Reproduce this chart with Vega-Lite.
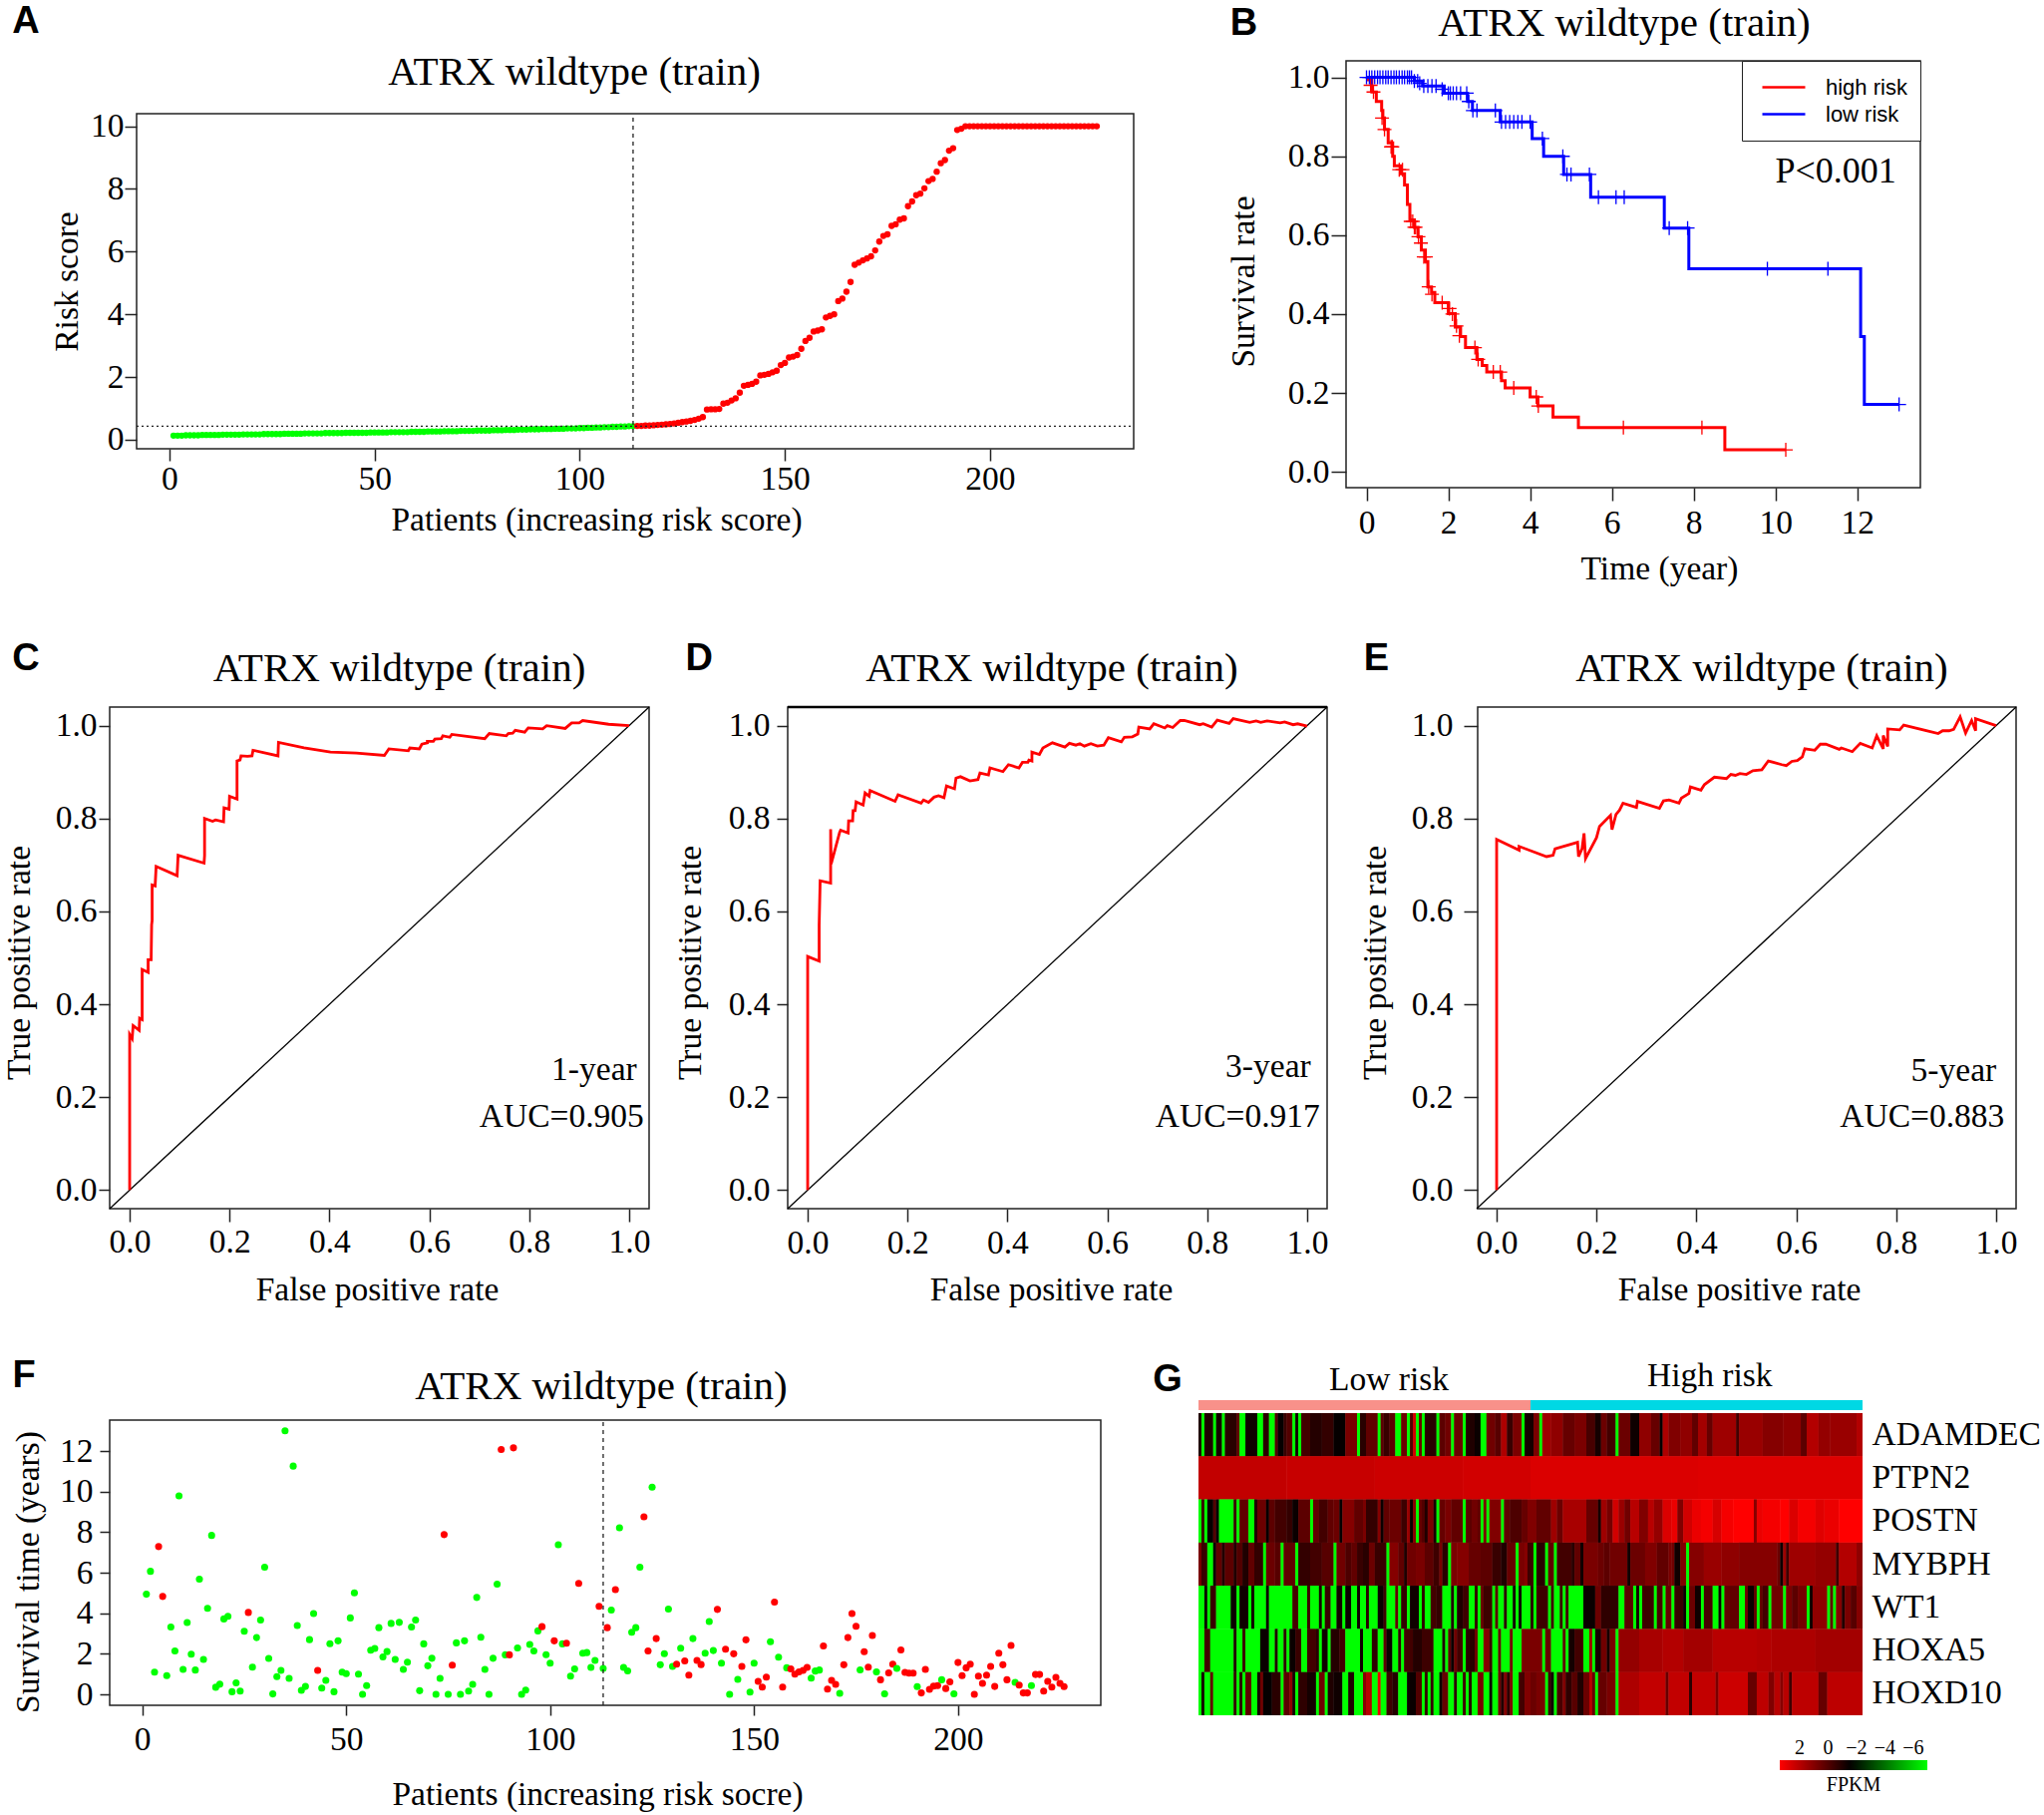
{
"$schema":"https://vega.github.io/schema/vega-lite/v6.json",
"background":"white",
"padding":{"left":1,"top":2,"right":0,"bottom":0},
"config":{"view":{"stroke":null},
"axis":{"grid":false,"domain":false,"labelFont":"Liberation Serif","labelFontSize":33.5,"titleFont":"Liberation Serif","titleFontSize":33.5,"titleFontWeight":"normal","labelColor":"#000","titleColor":"#000","tickColor":"#222","tickWidth":1.5,"labelOverlap":false,"labelFlush":false},
"text":{"font":"Liberation Serif","fontSize":33.5,"color":"#000"}},
"datasets":{
"riskScore":[
{"x":1,"y":0.13,"g":"low"},{"x":2,"y":0.13,"g":"low"},{"x":3,"y":0.13,"g":"low"},{"x":4,"y":0.14,"g":"low"},{"x":5,"y":0.14,"g":"low"},{"x":6,"y":0.14,"g":"low"},{"x":7,"y":0.14,"g":"low"},{"x":8,"y":0.15,"g":"low"},{"x":9,"y":0.15,"g":"low"},{"x":10,"y":0.15,"g":"low"},
{"x":11,"y":0.15,"g":"low"},{"x":12,"y":0.15,"g":"low"},{"x":13,"y":0.16,"g":"low"},{"x":14,"y":0.16,"g":"low"},{"x":15,"y":0.16,"g":"low"},{"x":16,"y":0.16,"g":"low"},{"x":17,"y":0.16,"g":"low"},{"x":18,"y":0.17,"g":"low"},{"x":19,"y":0.17,"g":"low"},{"x":20,"y":0.17,"g":"low"},
{"x":21,"y":0.17,"g":"low"},{"x":22,"y":0.17,"g":"low"},{"x":23,"y":0.18,"g":"low"},{"x":24,"y":0.18,"g":"low"},{"x":25,"y":0.18,"g":"low"},{"x":26,"y":0.18,"g":"low"},{"x":27,"y":0.18,"g":"low"},{"x":28,"y":0.19,"g":"low"},{"x":29,"y":0.19,"g":"low"},{"x":30,"y":0.19,"g":"low"},
{"x":31,"y":0.19,"g":"low"},{"x":32,"y":0.19,"g":"low"},{"x":33,"y":0.2,"g":"low"},{"x":34,"y":0.2,"g":"low"},{"x":35,"y":0.2,"g":"low"},{"x":36,"y":0.2,"g":"low"},{"x":37,"y":0.2,"g":"low"},{"x":38,"y":0.21,"g":"low"},{"x":39,"y":0.21,"g":"low"},{"x":40,"y":0.21,"g":"low"},
{"x":41,"y":0.21,"g":"low"},{"x":42,"y":0.21,"g":"low"},{"x":43,"y":0.22,"g":"low"},{"x":44,"y":0.22,"g":"low"},{"x":45,"y":0.22,"g":"low"},{"x":46,"y":0.22,"g":"low"},{"x":47,"y":0.22,"g":"low"},{"x":48,"y":0.22,"g":"low"},{"x":49,"y":0.23,"g":"low"},{"x":50,"y":0.23,"g":"low"},
{"x":51,"y":0.23,"g":"low"},{"x":52,"y":0.23,"g":"low"},{"x":53,"y":0.23,"g":"low"},{"x":54,"y":0.24,"g":"low"},{"x":55,"y":0.24,"g":"low"},{"x":56,"y":0.24,"g":"low"},{"x":57,"y":0.24,"g":"low"},{"x":58,"y":0.24,"g":"low"},{"x":59,"y":0.25,"g":"low"},{"x":60,"y":0.25,"g":"low"},
{"x":61,"y":0.25,"g":"low"},{"x":62,"y":0.25,"g":"low"},{"x":63,"y":0.26,"g":"low"},{"x":64,"y":0.26,"g":"low"},{"x":65,"y":0.26,"g":"low"},{"x":66,"y":0.26,"g":"low"},{"x":67,"y":0.27,"g":"low"},{"x":68,"y":0.27,"g":"low"},{"x":69,"y":0.27,"g":"low"},{"x":70,"y":0.27,"g":"low"},
{"x":71,"y":0.28,"g":"low"},{"x":72,"y":0.28,"g":"low"},{"x":73,"y":0.28,"g":"low"},{"x":74,"y":0.28,"g":"low"},{"x":75,"y":0.29,"g":"low"},{"x":76,"y":0.29,"g":"low"},{"x":77,"y":0.29,"g":"low"},{"x":78,"y":0.29,"g":"low"},{"x":79,"y":0.3,"g":"low"},{"x":80,"y":0.3,"g":"low"},
{"x":81,"y":0.3,"g":"low"},{"x":82,"y":0.31,"g":"low"},{"x":83,"y":0.31,"g":"low"},{"x":84,"y":0.31,"g":"low"},{"x":85,"y":0.32,"g":"low"},{"x":86,"y":0.32,"g":"low"},{"x":87,"y":0.32,"g":"low"},{"x":88,"y":0.33,"g":"low"},{"x":89,"y":0.33,"g":"low"},{"x":90,"y":0.33,"g":"low"},
{"x":91,"y":0.34,"g":"low"},{"x":92,"y":0.34,"g":"low"},{"x":93,"y":0.34,"g":"low"},{"x":94,"y":0.35,"g":"low"},{"x":95,"y":0.35,"g":"low"},{"x":96,"y":0.35,"g":"low"},{"x":97,"y":0.36,"g":"low"},{"x":98,"y":0.36,"g":"low"},{"x":99,"y":0.36,"g":"low"},{"x":100,"y":0.37,"g":"low"},
{"x":101,"y":0.37,"g":"low"},{"x":102,"y":0.38,"g":"low"},{"x":103,"y":0.38,"g":"low"},{"x":104,"y":0.39,"g":"low"},{"x":105,"y":0.39,"g":"low"},{"x":106,"y":0.4,"g":"low"},{"x":107,"y":0.4,"g":"low"},{"x":108,"y":0.41,"g":"low"},{"x":109,"y":0.41,"g":"low"},{"x":110,"y":0.42,"g":"low"},{"x":111,"y":0.42,"g":"low"},{"x":112,"y":0.43,"g":"low"},{"x":113,"y":0.43,"g":"low"},
{"x":114,"y":0.44,"g":"high"},{"x":115,"y":0.44,"g":"high"},{"x":116,"y":0.45,"g":"high"},{"x":117,"y":0.45,"g":"high"},{"x":118,"y":0.46,"g":"high"},{"x":119,"y":0.47,"g":"high"},{"x":120,"y":0.48,"g":"high"},{"x":121,"y":0.49,"g":"high"},{"x":122,"y":0.5,"g":"high"},{"x":123,"y":0.52,"g":"high"},{"x":124,"y":0.54,"g":"high"},{"x":125,"y":0.56,"g":"high"},{"x":126,"y":0.58,"g":"high"},{"x":127,"y":0.6,"g":"high"},{"x":128,"y":0.63,"g":"high"},{"x":129,"y":0.67,"g":"high"},{"x":130,"y":0.72,"g":"high"},
{"x":131,"y":0.96,"g":"high"},{"x":132,"y":0.97,"g":"high"},{"x":133,"y":0.97,"g":"high"},{"x":134,"y":0.98,"g":"high"},{"x":135,"y":1.15,"g":"high"},{"x":136,"y":1.18,"g":"high"},{"x":137,"y":1.25,"g":"high"},{"x":138,"y":1.32,"g":"high"},{"x":139,"y":1.5,"g":"high"},{"x":140,"y":1.72,"g":"high"},
{"x":141,"y":1.75,"g":"high"},{"x":142,"y":1.78,"g":"high"},{"x":143,"y":1.85,"g":"high"},{"x":144,"y":2.05,"g":"high"},{"x":145,"y":2.07,"g":"high"},{"x":146,"y":2.1,"g":"high"},{"x":147,"y":2.15,"g":"high"},{"x":148,"y":2.2,"g":"high"},{"x":149,"y":2.38,"g":"high"},{"x":150,"y":2.45,"g":"high"},
{"x":151,"y":2.62,"g":"high"},{"x":152,"y":2.65,"g":"high"},{"x":153,"y":2.7,"g":"high"},{"x":154,"y":2.9,"g":"high"},{"x":155,"y":3.15,"g":"high"},{"x":156,"y":3.25,"g":"high"},{"x":157,"y":3.45,"g":"high"},{"x":158,"y":3.48,"g":"high"},{"x":159,"y":3.52,"g":"high"},{"x":160,"y":3.9,"g":"high"},
{"x":161,"y":3.95,"g":"high"},{"x":162,"y":4.0,"g":"high"},{"x":163,"y":4.42,"g":"high"},{"x":164,"y":4.5,"g":"high"},{"x":165,"y":4.72,"g":"high"},{"x":166,"y":5.03,"g":"high"},{"x":167,"y":5.58,"g":"high"},{"x":168,"y":5.65,"g":"high"},{"x":169,"y":5.72,"g":"high"},{"x":170,"y":5.78,"g":"high"},
{"x":171,"y":5.85,"g":"high"},{"x":172,"y":6.04,"g":"high"},{"x":173,"y":6.32,"g":"high"},{"x":174,"y":6.5,"g":"high"},{"x":175,"y":6.55,"g":"high"},{"x":176,"y":6.82,"g":"high"},{"x":177,"y":6.87,"g":"high"},{"x":178,"y":7.02,"g":"high"},{"x":179,"y":7.06,"g":"high"},{"x":180,"y":7.45,"g":"high"},
{"x":181,"y":7.6,"g":"high"},{"x":182,"y":7.8,"g":"high"},{"x":183,"y":7.85,"g":"high"},{"x":184,"y":8.02,"g":"high"},{"x":185,"y":8.25,"g":"high"},{"x":186,"y":8.32,"g":"high"},{"x":187,"y":8.55,"g":"high"},{"x":188,"y":8.82,"g":"high"},{"x":189,"y":8.92,"g":"high"},{"x":190,"y":9.22,"g":"high"},
{"x":191,"y":9.3,"g":"high"},{"x":192,"y":9.88,"g":"high"},{"x":193,"y":9.92,"g":"high"},{"x":194,"y":10,"g":"high"},{"x":195,"y":10,"g":"high"},{"x":196,"y":10,"g":"high"},{"x":197,"y":10,"g":"high"},{"x":198,"y":10,"g":"high"},{"x":199,"y":10,"g":"high"},{"x":200,"y":10,"g":"high"},
{"x":201,"y":10,"g":"high"},{"x":202,"y":10,"g":"high"},{"x":203,"y":10,"g":"high"},{"x":204,"y":10,"g":"high"},{"x":205,"y":10,"g":"high"},{"x":206,"y":10,"g":"high"},{"x":207,"y":10,"g":"high"},{"x":208,"y":10,"g":"high"},{"x":209,"y":10,"g":"high"},{"x":210,"y":10,"g":"high"},
{"x":211,"y":10,"g":"high"},{"x":212,"y":10,"g":"high"},{"x":213,"y":10,"g":"high"},{"x":214,"y":10,"g":"high"},{"x":215,"y":10,"g":"high"},{"x":216,"y":10,"g":"high"},{"x":217,"y":10,"g":"high"},{"x":218,"y":10,"g":"high"},{"x":219,"y":10,"g":"high"},{"x":220,"y":10,"g":"high"},
{"x":221,"y":10,"g":"high"},{"x":222,"y":10,"g":"high"},{"x":223,"y":10,"g":"high"},{"x":224,"y":10,"g":"high"},{"x":225,"y":10,"g":"high"},{"x":226,"y":10,"g":"high"}],
"survivalTime":[
{"x":1,"y":4.94,"g":"a"},{"x":2,"y":6.07,"g":"a"},{"x":3,"y":1.1,"g":"a"},{"x":4,"y":7.29,"g":"d"},{"x":5,"y":4.83,"g":"d"},{"x":6,"y":0.92,"g":"a"},{"x":7,"y":3.32,"g":"a"},{"x":8,"y":2.14,"g":"a"},{"x":9,"y":9.79,"g":"a"},{"x":10,"y":1.23,"g":"a"},
{"x":11,"y":3.54,"g":"a"},{"x":12,"y":1.98,"g":"a"},{"x":13,"y":1.2,"g":"a"},{"x":14,"y":5.68,"g":"a"},{"x":15,"y":1.72,"g":"a"},{"x":16,"y":4.24,"g":"a"},{"x":17,"y":7.84,"g":"a"},{"x":18,"y":0.35,"g":"a"},{"x":19,"y":0.5,"g":"a"},{"x":20,"y":3.72,"g":"a"},
{"x":21,"y":3.85,"g":"a"},{"x":22,"y":0.13,"g":"a"},{"x":23,"y":0.57,"g":"a"},{"x":24,"y":0.16,"g":"a"},{"x":25,"y":3.11,"g":"a"},{"x":26,"y":4.04,"g":"d"},{"x":27,"y":1.34,"g":"a"},{"x":28,"y":2.8,"g":"a"},{"x":29,"y":3.67,"g":"a"},{"x":30,"y":6.27,"g":"a"},
{"x":31,"y":1.77,"g":"a"},{"x":32,"y":0.02,"g":"a"},{"x":33,"y":0.87,"g":"a"},{"x":34,"y":1.18,"g":"a"},{"x":35,"y":13.0,"g":"a"},{"x":36,"y":0.79,"g":"a"},{"x":37,"y":11.26,"g":"a"},{"x":38,"y":3.4,"g":"a"},{"x":39,"y":0.2,"g":"a"},{"x":40,"y":0.39,"g":"a"},
{"x":41,"y":2.7,"g":"a"},{"x":42,"y":3.99,"g":"a"},{"x":43,"y":1.18,"g":"d"},{"x":44,"y":0.31,"g":"a"},{"x":45,"y":0.69,"g":"a"},{"x":46,"y":2.5,"g":"a"},{"x":47,"y":0.13,"g":"a"},{"x":48,"y":2.64,"g":"a"},{"x":49,"y":1.1,"g":"a"},{"x":50,"y":1.02,"g":"a"},
{"x":51,"y":3.77,"g":"a"},{"x":52,"y":5.01,"g":"a"},{"x":53,"y":1.0,"g":"a"},{"x":54,"y":0.0,"g":"a"},{"x":55,"y":0.43,"g":"a"},{"x":56,"y":2.18,"g":"a"},{"x":57,"y":2.26,"g":"a"},{"x":58,"y":3.29,"g":"a"},{"x":59,"y":1.85,"g":"a"},{"x":60,"y":2.11,"g":"a"},
{"x":61,"y":3.5,"g":"a"},{"x":62,"y":1.72,"g":"a"},{"x":63,"y":3.55,"g":"a"},{"x":64,"y":1.23,"g":"a"},{"x":65,"y":1.59,"g":"a"},{"x":66,"y":3.32,"g":"a"},{"x":67,"y":3.67,"g":"a"},{"x":68,"y":0.18,"g":"a"},{"x":69,"y":2.49,"g":"a"},{"x":70,"y":1.41,"g":"a"},
{"x":71,"y":1.78,"g":"a"},{"x":72,"y":0.0,"g":"a"},{"x":73,"y":0.79,"g":"a"},{"x":74,"y":7.88,"g":"d"},{"x":75,"y":0.0,"g":"a"},{"x":76,"y":1.44,"g":"d"},{"x":77,"y":2.54,"g":"a"},{"x":78,"y":0.0,"g":"a"},{"x":79,"y":2.64,"g":"a"},{"x":80,"y":0.16,"g":"a"},
{"x":81,"y":0.49,"g":"a"},{"x":82,"y":4.78,"g":"a"},{"x":83,"y":2.82,"g":"a"},{"x":84,"y":1.23,"g":"a"},{"x":85,"y":0.0,"g":"a"},{"x":86,"y":1.78,"g":"a"},{"x":87,"y":5.44,"g":"a"},{"x":88,"y":12.08,"g":"d"},{"x":89,"y":1.95,"g":"a"},{"x":90,"y":1.95,"g":"d"},
{"x":91,"y":12.16,"g":"d"},{"x":92,"y":2.29,"g":"a"},{"x":93,"y":0.0,"g":"a"},{"x":94,"y":0.21,"g":"a"},{"x":95,"y":2.46,"g":"a"},{"x":96,"y":2.14,"g":"a"},{"x":97,"y":3.13,"g":"a"},{"x":98,"y":3.34,"g":"d"},{"x":99,"y":1.96,"g":"a"},{"x":100,"y":1.54,"g":"a"},
{"x":101,"y":2.64,"g":"d"},{"x":102,"y":7.38,"g":"a"},{"x":103,"y":2.49,"g":"a"},{"x":104,"y":2.52,"g":"d"},{"x":105,"y":0.9,"g":"a"},{"x":106,"y":1.26,"g":"a"},{"x":107,"y":5.47,"g":"d"},{"x":108,"y":2.03,"g":"a"},{"x":109,"y":2.06,"g":"a"},{"x":110,"y":1.33,"g":"a"},
{"x":111,"y":1.67,"g":"a"},{"x":112,"y":4.34,"g":"d"},{"x":113,"y":1.28,"g":"a"},{"x":114,"y":3.29,"g":"d"},{"x":115,"y":4.16,"g":"a"},{"x":116,"y":5.17,"g":"d"},{"x":117,"y":8.22,"g":"a"},{"x":118,"y":1.33,"g":"a"},{"x":119,"y":1.16,"g":"a"},{"x":120,"y":3.06,"g":"a"},
{"x":121,"y":3.29,"g":"a"},{"x":122,"y":6.27,"g":"a"},{"x":123,"y":8.76,"g":"d"},{"x":124,"y":2.14,"g":"d"},{"x":125,"y":10.22,"g":"a"},{"x":126,"y":2.75,"g":"d"},{"x":127,"y":1.46,"g":"a"},{"x":128,"y":2.01,"g":"a"},{"x":129,"y":4.21,"g":"a"},{"x":130,"y":1.38,"g":"a"},
{"x":131,"y":1.49,"g":"d"},{"x":132,"y":2.28,"g":"a"},{"x":133,"y":1.65,"g":"d"},{"x":134,"y":0.95,"g":"d"},{"x":135,"y":2.75,"g":"a"},{"x":136,"y":1.67,"g":"d"},{"x":137,"y":1.47,"g":"d"},{"x":138,"y":2.03,"g":"a"},{"x":139,"y":3.59,"g":"a"},{"x":140,"y":2.16,"g":"a"},
{"x":141,"y":4.19,"g":"d"},{"x":142,"y":1.54,"g":"a"},{"x":143,"y":2.23,"g":"d"},{"x":144,"y":0.0,"g":"a"},{"x":145,"y":2.0,"g":"d"},{"x":146,"y":0.74,"g":"a"},{"x":147,"y":1.38,"g":"d"},{"x":148,"y":2.69,"g":"d"},{"x":149,"y":0.11,"g":"a"},{"x":150,"y":1.54,"g":"a"},
{"x":151,"y":0.64,"g":"d"},{"x":152,"y":0.36,"g":"d"},{"x":153,"y":0.85,"g":"d"},{"x":154,"y":2.6,"g":"a"},{"x":155,"y":4.55,"g":"d"},{"x":156,"y":1.83,"g":"a"},{"x":157,"y":0.36,"g":"d"},{"x":158,"y":1.31,"g":"a"},{"x":159,"y":1.26,"g":"d"},{"x":160,"y":1.0,"g":"d"},
{"x":161,"y":1.11,"g":"d"},{"x":162,"y":1.18,"g":"d"},{"x":163,"y":1.33,"g":"d"},{"x":164,"y":0.8,"g":"a"},{"x":165,"y":1.15,"g":"a"},{"x":166,"y":1.2,"g":"a"},{"x":167,"y":2.39,"g":"d"},{"x":168,"y":0.26,"g":"d"},{"x":169,"y":0.69,"g":"d"},{"x":170,"y":0.49,"g":"d"},
{"x":171,"y":0.05,"g":"a"},{"x":172,"y":1.46,"g":"d"},{"x":173,"y":2.8,"g":"d"},{"x":174,"y":3.99,"g":"d"},{"x":175,"y":3.36,"g":"d"},{"x":176,"y":1.21,"g":"a"},{"x":177,"y":2.1,"g":"d"},{"x":178,"y":1.34,"g":"d"},{"x":179,"y":2.9,"g":"d"},{"x":180,"y":1.11,"g":"a"},
{"x":181,"y":0.72,"g":"d"},{"x":182,"y":0.03,"g":"a"},{"x":183,"y":1.06,"g":"d"},{"x":184,"y":1.49,"g":"d"},{"x":185,"y":1.28,"g":"a"},{"x":186,"y":2.19,"g":"d"},{"x":187,"y":1.08,"g":"d"},{"x":188,"y":1.05,"g":"d"},{"x":189,"y":1.05,"g":"d"},{"x":190,"y":0.38,"g":"a"},
{"x":191,"y":0.07,"g":"d"},{"x":192,"y":1.23,"g":"d"},{"x":193,"y":0.25,"g":"d"},{"x":194,"y":0.41,"g":"d"},{"x":195,"y":0.43,"g":"d"},{"x":196,"y":0.72,"g":"a"},{"x":197,"y":0.29,"g":"d"},{"x":198,"y":0.62,"g":"d"},{"x":199,"y":0.03,"g":"a"},{"x":200,"y":1.57,"g":"d"},
{"x":201,"y":0.92,"g":"d"},{"x":202,"y":1.31,"g":"d"},{"x":203,"y":1.49,"g":"d"},{"x":204,"y":0.0,"g":"d"},{"x":205,"y":0.9,"g":"d"},{"x":206,"y":0.54,"g":"d"},{"x":207,"y":0.95,"g":"d"},{"x":208,"y":1.38,"g":"d"},{"x":209,"y":0.39,"g":"d"},{"x":210,"y":2.03,"g":"d"},
{"x":211,"y":1.46,"g":"d"},{"x":212,"y":0.72,"g":"d"},{"x":213,"y":2.41,"g":"d"},{"x":214,"y":0.59,"g":"a"},{"x":215,"y":0.46,"g":"d"},{"x":216,"y":0.07,"g":"d"},{"x":217,"y":0.07,"g":"d"},{"x":218,"y":0.43,"g":"a"},{"x":219,"y":0.98,"g":"d"},{"x":220,"y":0.98,"g":"d"},
{"x":221,"y":0.16,"g":"d"},{"x":222,"y":0.64,"g":"d"},{"x":223,"y":0.36,"g":"d"},{"x":224,"y":0.84,"g":"d"},{"x":225,"y":0.54,"g":"d"},{"x":226,"y":0.38,"g":"d"}],
"km":[
{"x":0,"y":1.0,"g":"high risk"},{"x":0.04,"y":0.994,"g":"high risk"},{"x":0.13,"y":0.963,"g":"high risk"},{"x":0.24,"y":0.939,"g":"high risk"},{"x":0.37,"y":0.916,"g":"high risk"},{"x":0.4,"y":0.897,"g":"high risk"},{"x":0.44,"y":0.868,"g":"high risk"},{"x":0.53,"y":0.834,"g":"high risk"},{"x":0.64,"y":0.8,"g":"high risk"},{"x":0.68,"y":0.776,"g":"high risk"},{"x":0.84,"y":0.756,"g":"high risk"},{"x":0.93,"y":0.727,"g":"high risk"},{"x":1.0,"y":0.678,"g":"high risk"},{"x":1.06,"y":0.639,"g":"high risk"},{"x":1.17,"y":0.62,"g":"high risk"},{"x":1.26,"y":0.596,"g":"high risk"},{"x":1.34,"y":0.562,"g":"high risk"},{"x":1.44,"y":0.533,"g":"high risk"},{"x":1.5,"y":0.469,"g":"high risk"},{"x":1.59,"y":0.455,"g":"high risk"},{"x":1.67,"y":0.429,"g":"high risk"},{"x":2.0,"y":0.401,"g":"high risk"},{"x":2.17,"y":0.367,"g":"high risk"},{"x":2.3,"y":0.343,"g":"high risk"},{"x":2.42,"y":0.315,"g":"high risk"},{"x":2.7,"y":0.285,"g":"high risk"},{"x":2.83,"y":0.27,"g":"high risk"},{"x":2.94,"y":0.253,"g":"high risk"},{"x":3.3,"y":0.231,"g":"high risk"},{"x":3.39,"y":0.213,"g":"high risk"},{"x":4.0,"y":0.19,"g":"high risk"},{"x":4.19,"y":0.167,"g":"high risk"},{"x":4.56,"y":0.139,"g":"high risk"},{"x":5.18,"y":0.112,"g":"high risk"},{"x":8.76,"y":0.056,"g":"high risk"},{"x":10.25,"y":0.056,"g":"high risk"},
{"x":0,"y":1.0,"g":"low risk"},{"x":1.17,"y":0.991,"g":"low risk"},{"x":1.37,"y":0.978,"g":"low risk"},{"x":1.9,"y":0.96,"g":"low risk"},{"x":2.47,"y":0.939,"g":"low risk"},{"x":2.59,"y":0.916,"g":"low risk"},{"x":3.27,"y":0.887,"g":"low risk"},{"x":4.05,"y":0.845,"g":"low risk"},{"x":4.33,"y":0.8,"g":"low risk"},{"x":4.82,"y":0.754,"g":"low risk"},{"x":5.48,"y":0.696,"g":"low risk"},{"x":7.28,"y":0.618,"g":"low risk"},{"x":7.88,"y":0.515,"g":"low risk"},{"x":12.08,"y":0.343,"g":"low risk"},{"x":12.17,"y":0.171,"g":"low risk"},{"x":13.02,"y":0.171,"g":"low risk"}],
"censored":[
{"x":0.1,"y":0.98,"g":"high risk"},{"x":0.17,"y":0.963,"g":"high risk"},{"x":0.38,"y":0.897,"g":"high risk"},{"x":0.44,"y":0.868,"g":"high risk"},{"x":0.6,"y":0.824,"g":"high risk"},{"x":0.63,"y":0.824,"g":"high risk"},{"x":0.8,"y":0.766,"g":"high risk"},{"x":0.88,"y":0.766,"g":"high risk"},{"x":1.08,"y":0.635,"g":"high risk"},{"x":1.13,"y":0.635,"g":"high risk"},{"x":1.17,"y":0.62,"g":"high risk"},{"x":1.2,"y":0.62,"g":"high risk"},{"x":1.27,"y":0.596,"g":"high risk"},{"x":1.33,"y":0.58,"g":"high risk"},{"x":1.4,"y":0.545,"g":"high risk"},{"x":1.45,"y":0.545,"g":"high risk"},{"x":1.52,"y":0.469,"g":"high risk"},{"x":1.6,"y":0.45,"g":"high risk"},{"x":1.85,"y":0.429,"g":"high risk"},{"x":2.03,"y":0.414,"g":"high risk"},{"x":2.1,"y":0.4,"g":"high risk"},{"x":2.2,"y":0.37,"g":"high risk"},{"x":2.27,"y":0.345,"g":"high risk"},{"x":2.65,"y":0.315,"g":"high risk"},{"x":2.73,"y":0.285,"g":"high risk"},{"x":3.1,"y":0.253,"g":"high risk"},{"x":3.27,"y":0.253,"g":"high risk"},{"x":3.6,"y":0.213,"g":"high risk"},{"x":4.15,"y":0.19,"g":"high risk"},{"x":4.2,"y":0.167,"g":"high risk"},{"x":6.28,"y":0.112,"g":"high risk"},{"x":8.2,"y":0.112,"g":"high risk"},{"x":10.25,"y":0.056,"g":"high risk"},
{"x":0.0,"y":1.0,"g":"low risk"},{"x":0.07,"y":1.0,"g":"low risk"},{"x":0.13,"y":1.0,"g":"low risk"},{"x":0.2,"y":1.0,"g":"low risk"},{"x":0.27,"y":1.0,"g":"low risk"},{"x":0.33,"y":1.0,"g":"low risk"},{"x":0.4,"y":1.0,"g":"low risk"},{"x":0.47,"y":1.0,"g":"low risk"},{"x":0.53,"y":1.0,"g":"low risk"},{"x":0.6,"y":1.0,"g":"low risk"},{"x":0.67,"y":1.0,"g":"low risk"},{"x":0.73,"y":1.0,"g":"low risk"},{"x":0.8,"y":1.0,"g":"low risk"},{"x":0.87,"y":1.0,"g":"low risk"},{"x":0.93,"y":1.0,"g":"low risk"},{"x":1.0,"y":1.0,"g":"low risk"},{"x":1.05,"y":1.0,"g":"low risk"},{"x":1.1,"y":1.0,"g":"low risk"},{"x":1.17,"y":0.991,"g":"low risk"},{"x":1.25,"y":0.991,"g":"low risk"},{"x":1.3,"y":0.985,"g":"low risk"},{"x":1.4,"y":0.978,"g":"low risk"},{"x":1.5,"y":0.978,"g":"low risk"},{"x":1.6,"y":0.978,"g":"low risk"},{"x":1.7,"y":0.978,"g":"low risk"},{"x":1.85,"y":0.97,"g":"low risk"},{"x":2.0,"y":0.96,"g":"low risk"},{"x":2.05,"y":0.96,"g":"low risk"},{"x":2.12,"y":0.96,"g":"low risk"},{"x":2.2,"y":0.96,"g":"low risk"},{"x":2.3,"y":0.96,"g":"low risk"},{"x":2.45,"y":0.96,"g":"low risk"},{"x":2.5,"y":0.939,"g":"low risk"},{"x":2.6,"y":0.916,"g":"low risk"},{"x":2.7,"y":0.916,"g":"low risk"},{"x":3.15,"y":0.916,"g":"low risk"},{"x":3.3,"y":0.887,"g":"low risk"},{"x":3.4,"y":0.887,"g":"low risk"},{"x":3.5,"y":0.887,"g":"low risk"},{"x":3.6,"y":0.887,"g":"low risk"},{"x":3.7,"y":0.887,"g":"low risk"},{"x":3.8,"y":0.887,"g":"low risk"},{"x":4.0,"y":0.887,"g":"low risk"},{"x":4.3,"y":0.845,"g":"low risk"},{"x":4.8,"y":0.8,"g":"low risk"},{"x":4.9,"y":0.754,"g":"low risk"},{"x":5.0,"y":0.754,"g":"low risk"},{"x":5.45,"y":0.754,"g":"low risk"},{"x":5.67,"y":0.696,"g":"low risk"},{"x":6.1,"y":0.696,"g":"low risk"},{"x":6.3,"y":0.696,"g":"low risk"},{"x":7.4,"y":0.618,"g":"low risk"},{"x":7.85,"y":0.618,"g":"low risk"},{"x":9.8,"y":0.515,"g":"low risk"},{"x":11.28,"y":0.515,"g":"low risk"},{"x":13.02,"y":0.171,"g":"low risk"}],
"roc1":[{"x":0,"y":0},{"x":0,"y":0.335},{"x":0.005,"y":0.326},{"x":0.007,"y":0.354},{"x":0.019,"y":0.344},{"x":0.02,"y":0.37},{"x":0.025,"y":0.367},{"x":0.025,"y":0.475},{"x":0.037,"y":0.469},{"x":0.037,"y":0.496},{"x":0.043,"y":0.496},{"x":0.044,"y":0.571},{"x":0.045,"y":0.58},{"x":0.045,"y":0.657},{"x":0.051,"y":0.655},{"x":0.053,"y":0.697},{"x":0.095,"y":0.677},{"x":0.097,"y":0.721},{"x":0.149,"y":0.704},{"x":0.15,"y":0.72},{"x":0.15,"y":0.8},{"x":0.166,"y":0.794},{"x":0.172,"y":0.797},{"x":0.188,"y":0.793},{"x":0.189,"y":0.823},{"x":0.199,"y":0.82},{"x":0.2,"y":0.848},{"x":0.215,"y":0.842},{"x":0.215,"y":0.924},{"x":0.221,"y":0.926},{"x":0.223,"y":0.935},{"x":0.236,"y":0.934},{"x":0.245,"y":0.935},{"x":0.247,"y":0.947},{"x":0.297,"y":0.935},{"x":0.298,"y":0.964},{"x":0.349,"y":0.952},{"x":0.402,"y":0.943},{"x":0.454,"y":0.941},{"x":0.51,"y":0.936},{"x":0.519,"y":0.95},{"x":0.558,"y":0.946},{"x":0.561,"y":0.952},{"x":0.58,"y":0.95},{"x":0.585,"y":0.96},{"x":0.596,"y":0.963},{"x":0.596,"y":0.966},{"x":0.608,"y":0.966},{"x":0.611,"y":0.971},{"x":0.624,"y":0.972},{"x":0.627,"y":0.978},{"x":0.641,"y":0.975},{"x":0.645,"y":0.981},{"x":0.711,"y":0.972},{"x":0.72,"y":0.983},{"x":0.754,"y":0.978},{"x":0.758,"y":0.983},{"x":0.767,"y":0.984},{"x":0.772,"y":0.99},{"x":0.791,"y":0.986},{"x":0.798,"y":0.995},{"x":0.827,"y":0.993},{"x":0.835,"y":1.0},{"x":0.872,"y":0.994},{"x":0.885,"y":1.006},{"x":0.9,"y":1.006},{"x":0.907,"y":1.011},{"x":0.959,"y":1.003},{"x":1,"y":1}],
"roc3":[{"x":0,"y":0},{"x":0,"y":0.503},{"x":0.023,"y":0.493},{"x":0.023,"y":0.571},{"x":0.025,"y":0.666},{"x":0.046,"y":0.661},{"x":0.047,"y":0.702},{"x":0.046,"y":0.777},{"x":0.064,"y":0.77},{"x":0.066,"y":0.775},{"x":0.081,"y":0.769},{"x":0.082,"y":0.795},{"x":0.09,"y":0.795},{"x":0.091,"y":0.817},{"x":0.095,"y":0.817},{"x":0.097,"y":0.836},{"x":0.111,"y":0.829},{"x":0.115,"y":0.855},{"x":0.123,"y":0.848},{"x":0.125,"y":0.86},{"x":0.175,"y":0.837},{"x":0.181,"y":0.851},{"x":0.227,"y":0.833},{"x":0.232,"y":0.84},{"x":0.242,"y":0.835},{"x":0.253,"y":0.846},{"x":0.262,"y":0.849},{"x":0.273,"y":0.845},{"x":0.278,"y":0.87},{"x":0.294,"y":0.864},{"x":0.297,"y":0.887},{"x":0.306,"y":0.89},{"x":0.325,"y":0.881},{"x":0.341,"y":0.884},{"x":0.345,"y":0.898},{"x":0.362,"y":0.894},{"x":0.365,"y":0.909},{"x":0.391,"y":0.901},{"x":0.402,"y":0.916},{"x":0.423,"y":0.909},{"x":0.43,"y":0.921},{"x":0.441,"y":0.921},{"x":0.443,"y":0.926},{"x":0.449,"y":0.924},{"x":0.449,"y":0.943},{"x":0.464,"y":0.938},{"x":0.471,"y":0.952},{"x":0.49,"y":0.963},{"x":0.515,"y":0.954},{"x":0.524,"y":0.962},{"x":0.537,"y":0.958},{"x":0.545,"y":0.961},{"x":0.554,"y":0.956},{"x":0.567,"y":0.961},{"x":0.58,"y":0.956},{"x":0.593,"y":0.958},{"x":0.602,"y":0.974},{"x":0.628,"y":0.965},{"x":0.634,"y":0.975},{"x":0.65,"y":0.976},{"x":0.661,"y":0.982},{"x":0.663,"y":0.997},{"x":0.685,"y":0.993},{"x":0.693,"y":1.004},{"x":0.715,"y":0.995},{"x":0.72,"y":1.0},{"x":0.731,"y":0.996},{"x":0.746,"y":1.011},{"x":0.754,"y":1.011},{"x":0.785,"y":1.002},{"x":0.792,"y":1.004},{"x":0.809,"y":0.997},{"x":0.82,"y":1.012},{"x":0.844,"y":1.005},{"x":0.852,"y":1.015},{"x":0.885,"y":1.007},{"x":0.898,"y":1.01},{"x":0.907,"y":1.007},{"x":0.92,"y":1.01},{"x":0.946,"y":1.006},{"x":0.955,"y":1.008},{"x":0.972,"y":1.002},{"x":0.981,"y":1.004},{"x":1,"y":0.999}],
"roc5":[{"x":0,"y":0},{"x":0,"y":0.755},{"x":0.045,"y":0.732},{"x":0.045,"y":0.74},{"x":0.1,"y":0.718},{"x":0.113,"y":0.721},{"x":0.117,"y":0.735},{"x":0.164,"y":0.718},{"x":0.178,"y":0.714},{"x":0.171,"y":0.735},{"x":0.162,"y":0.749},{"x":0.175,"y":0.768},{"x":0.2,"y":0.759},{"x":0.206,"y":0.783},{"x":0.231,"y":0.776},{"x":0.228,"y":0.807},{"x":0.239,"y":0.809},{"x":0.246,"y":0.818},{"x":0.253,"y":0.833},{"x":0.28,"y":0.824},{"x":0.282,"y":0.837},{"x":0.326,"y":0.822},{"x":0.334,"y":0.838},{"x":0.345,"y":0.84},{"x":0.365,"y":0.833},{"x":0.37,"y":0.844},{"x":0.385,"y":0.854},{"x":0.388,"y":0.868},{"x":0.409,"y":0.861},{"x":0.416,"y":0.873},{"x":0.436,"y":0.889},{"x":0.46,"y":0.886},{"x":0.469,"y":0.895},{"x":0.478,"y":0.893},{"x":0.487,"y":0.897},{"x":0.5,"y":0.895},{"x":0.513,"y":0.903},{"x":0.531,"y":0.905},{"x":0.544,"y":0.924},{"x":0.571,"y":0.916},{"x":0.58,"y":0.914},{"x":0.591,"y":0.923},{"x":0.602,"y":0.925},{"x":0.612,"y":0.933},{"x":0.617,"y":0.95},{"x":0.637,"y":0.947},{"x":0.648,"y":0.96},{"x":0.659,"y":0.96},{"x":0.686,"y":0.949},{"x":0.69,"y":0.952},{"x":0.712,"y":0.944},{"x":0.728,"y":0.962},{"x":0.752,"y":0.952},{"x":0.774,"y":0.95},{"x":0.783,"y":0.955},{"x":0.761,"y":0.978},{"x":0.774,"y":0.979},{"x":0.783,"y":0.993},{"x":0.807,"y":0.991},{"x":0.815,"y":1.001},{"x":0.858,"y":0.99},{"x":0.884,"y":0.983},{"x":0.893,"y":0.989},{"x":0.906,"y":0.989},{"x":0.915,"y":0.992},{"x":0.939,"y":0.984},{"x":0.959,"y":0.989},{"x":0.928,"y":1.019},{"x":0.951,"y":1.011},{"x":0.959,"y":1.015},{"x":1,"y":1}],
"diagonal":[{"x":-0.04,"y":-0.04},{"x":1.04,"y":1.04}],
"heat":[
{"g":"ADAMDEC","a":0,"b":1,"v":-1.0},{"g":"ADAMDEC","a":1,"b":2,"v":-7},{"g":"ADAMDEC","a":2,"b":5,"v":-1.0},{"g":"ADAMDEC","a":5,"b":6,"v":-7},{"g":"ADAMDEC","a":6,"b":8,"v":-1.2},{"g":"ADAMDEC","a":8,"b":9,"v":-7},{"g":"ADAMDEC","a":9,"b":13,"v":-0.8},{"g":"ADAMDEC","a":13,"b":14,"v":0.2},{"g":"ADAMDEC","a":14,"b":16,"v":-7},{"g":"ADAMDEC","a":16,"b":20,"v":-1.3},{"g":"ADAMDEC","a":20,"b":22,"v":-7},{"g":"ADAMDEC","a":22,"b":24,"v":-0.8},{"g":"ADAMDEC","a":24,"b":26,"v":-7},{"g":"ADAMDEC","a":26,"b":27,"v":0},{"g":"ADAMDEC","a":27,"b":29,"v":-1.5},{"g":"ADAMDEC","a":29,"b":30,"v":-0.5},{"g":"ADAMDEC","a":30,"b":32,"v":0},{"g":"ADAMDEC","a":32,"b":33,"v":-7},{"g":"ADAMDEC","a":33,"b":34,"v":-1.3},{"g":"ADAMDEC","a":34,"b":35,"v":-7},{"g":"ADAMDEC","a":35,"b":38,"v":-0.3},{"g":"ADAMDEC","a":38,"b":42,"v":-0.9},{"g":"ADAMDEC","a":42,"b":46,"v":-0.6},{"g":"ADAMDEC","a":46,"b":50,"v":-1.5},{"g":"ADAMDEC","a":50,"b":54,"v":0.8},{"g":"ADAMDEC","a":54,"b":55,"v":-7},{"g":"ADAMDEC","a":55,"b":57,"v":-0.8},{"g":"ADAMDEC","a":57,"b":61,"v":0.3},{"g":"ADAMDEC","a":61,"b":62,"v":-7},{"g":"ADAMDEC","a":62,"b":63,"v":0.2},{"g":"ADAMDEC","a":63,"b":65,"v":-0.5},{"g":"ADAMDEC","a":65,"b":67,"v":0.2},{"g":"ADAMDEC","a":67,"b":69,"v":-7},{"g":"ADAMDEC","a":69,"b":71,"v":0.5},{"g":"ADAMDEC","a":71,"b":72,"v":-7},{"g":"ADAMDEC","a":72,"b":73,"v":0},{"g":"ADAMDEC","a":73,"b":74,"v":2.5},{"g":"ADAMDEC","a":74,"b":75,"v":-7},{"g":"ADAMDEC","a":75,"b":76,"v":0.5},{"g":"ADAMDEC","a":76,"b":77,"v":-7},{"g":"ADAMDEC","a":77,"b":81,"v":-0.8},{"g":"ADAMDEC","a":81,"b":82,"v":-7},{"g":"ADAMDEC","a":82,"b":84,"v":0.2},{"g":"ADAMDEC","a":84,"b":86,"v":0.6},{"g":"ADAMDEC","a":86,"b":87,"v":-7},{"g":"ADAMDEC","a":87,"b":90,"v":0.5},{"g":"ADAMDEC","a":90,"b":91,"v":-7},{"g":"ADAMDEC","a":91,"b":94,"v":-1.0},{"g":"ADAMDEC","a":94,"b":96,"v":-1.4},{"g":"ADAMDEC","a":96,"b":98,"v":-7},{"g":"ADAMDEC","a":98,"b":101,"v":0.6},{"g":"ADAMDEC","a":101,"b":103,"v":0.1},{"g":"ADAMDEC","a":103,"b":105,"v":1.8},{"g":"ADAMDEC","a":105,"b":107,"v":-0.5},{"g":"ADAMDEC","a":107,"b":110,"v":0.8},{"g":"ADAMDEC","a":110,"b":111,"v":-7},{"g":"ADAMDEC","a":111,"b":114,"v":-1.2},{"g":"ADAMDEC","a":114,"b":116,"v":0.8},{"g":"ADAMDEC","a":116,"b":117,"v":-7},{"g":"ADAMDEC","a":117,"b":120,"v":1.5},{"g":"ADAMDEC","a":120,"b":124,"v":1.2},{"g":"ADAMDEC","a":124,"b":128,"v":0.4},{"g":"ADAMDEC","a":128,"b":132,"v":0.8},{"g":"ADAMDEC","a":132,"b":135,"v":-0.2},{"g":"ADAMDEC","a":135,"b":137,"v":-1.2},{"g":"ADAMDEC","a":137,"b":139,"v":0.5},{"g":"ADAMDEC","a":139,"b":142,"v":-0.3},{"g":"ADAMDEC","a":142,"b":143,"v":-7},{"g":"ADAMDEC","a":143,"b":147,"v":0.5},{"g":"ADAMDEC","a":147,"b":150,"v":-1.3},{"g":"ADAMDEC","a":150,"b":154,"v":1.2},{"g":"ADAMDEC","a":154,"b":157,"v":0.4},{"g":"ADAMDEC","a":157,"b":158,"v":-1.5},{"g":"ADAMDEC","a":158,"b":160,"v":1.8},{"g":"ADAMDEC","a":160,"b":164,"v":0.9},{"g":"ADAMDEC","a":164,"b":168,"v":1.2},{"g":"ADAMDEC","a":168,"b":170,"v":0.3},{"g":"ADAMDEC","a":170,"b":173,"v":1.6},{"g":"ADAMDEC","a":173,"b":175,"v":0.4},{"g":"ADAMDEC","a":175,"b":183,"v":1.5},{"g":"ADAMDEC","a":183,"b":184,"v":-0.3},{"g":"ADAMDEC","a":184,"b":192,"v":1.4},{"g":"ADAMDEC","a":192,"b":199,"v":1.0},{"g":"ADAMDEC","a":199,"b":205,"v":1.2},{"g":"ADAMDEC","a":205,"b":207,"v":0.2},{"g":"ADAMDEC","a":207,"b":211,"v":1.9},{"g":"ADAMDEC","a":211,"b":215,"v":1.3},{"g":"ADAMDEC","a":215,"b":224,"v":1.4},{"g":"ADAMDEC","a":224,"b":226,"v":1.9},
{"g":"PTPN2","a":0,"b":30,"v":2.2},{"g":"PTPN2","a":30,"b":60,"v":2.3},{"g":"PTPN2","a":60,"b":90,"v":2.4},{"g":"PTPN2","a":90,"b":113,"v":2.5},{"g":"PTPN2","a":113,"b":170,"v":2.7},{"g":"PTPN2","a":170,"b":226,"v":2.75},
{"g":"POSTN","a":0,"b":1,"v":-7},{"g":"POSTN","a":1,"b":2,"v":-0.5},{"g":"POSTN","a":2,"b":3,"v":-7},{"g":"POSTN","a":3,"b":5,"v":-1.5},{"g":"POSTN","a":5,"b":6,"v":0},{"g":"POSTN","a":6,"b":7,"v":-1.5},{"g":"POSTN","a":7,"b":12,"v":-7},{"g":"POSTN","a":12,"b":13,"v":-0.5},{"g":"POSTN","a":13,"b":14,"v":-7},{"g":"POSTN","a":14,"b":17,"v":0.3},{"g":"POSTN","a":17,"b":19,"v":-7},{"g":"POSTN","a":19,"b":20,"v":-1},{"g":"POSTN","a":20,"b":23,"v":0.5},{"g":"POSTN","a":23,"b":24,"v":-1.5},{"g":"POSTN","a":24,"b":26,"v":0.2},{"g":"POSTN","a":26,"b":30,"v":-0.3},{"g":"POSTN","a":30,"b":32,"v":-0.6},{"g":"POSTN","a":32,"b":34,"v":-1.4},{"g":"POSTN","a":34,"b":38,"v":0.2},{"g":"POSTN","a":38,"b":39,"v":-7},{"g":"POSTN","a":39,"b":41,"v":0.3},{"g":"POSTN","a":41,"b":44,"v":-0.3},{"g":"POSTN","a":44,"b":46,"v":0.3},{"g":"POSTN","a":46,"b":48,"v":0.5},{"g":"POSTN","a":48,"b":49,"v":-1.5},{"g":"POSTN","a":49,"b":53,"v":1.0},{"g":"POSTN","a":53,"b":56,"v":0.3},{"g":"POSTN","a":56,"b":57,"v":0.8},{"g":"POSTN","a":57,"b":61,"v":-0.6},{"g":"POSTN","a":61,"b":62,"v":1},{"g":"POSTN","a":62,"b":63,"v":-1.4},{"g":"POSTN","a":63,"b":65,"v":0.3},{"g":"POSTN","a":65,"b":69,"v":0.5},{"g":"POSTN","a":69,"b":71,"v":-0.4},{"g":"POSTN","a":71,"b":72,"v":1.4},{"g":"POSTN","a":72,"b":73,"v":-1.4},{"g":"POSTN","a":73,"b":74,"v":1},{"g":"POSTN","a":74,"b":75,"v":-7},{"g":"POSTN","a":75,"b":76,"v":0.4},{"g":"POSTN","a":76,"b":77,"v":0},{"g":"POSTN","a":77,"b":78,"v":-1},{"g":"POSTN","a":78,"b":80,"v":0.8},{"g":"POSTN","a":80,"b":81,"v":-1.2},{"g":"POSTN","a":81,"b":82,"v":-7},{"g":"POSTN","a":82,"b":84,"v":0.4},{"g":"POSTN","a":84,"b":86,"v":0.8},{"g":"POSTN","a":86,"b":90,"v":0.3},{"g":"POSTN","a":90,"b":91,"v":-7},{"g":"POSTN","a":91,"b":93,"v":0.2},{"g":"POSTN","a":93,"b":95,"v":0.6},{"g":"POSTN","a":95,"b":96,"v":0.3},{"g":"POSTN","a":96,"b":97,"v":-7},{"g":"POSTN","a":97,"b":98,"v":0.8},{"g":"POSTN","a":98,"b":99,"v":-7},{"g":"POSTN","a":99,"b":103,"v":0.9},{"g":"POSTN","a":103,"b":104,"v":-7},{"g":"POSTN","a":104,"b":106,"v":0.3},{"g":"POSTN","a":106,"b":110,"v":-0.1},{"g":"POSTN","a":110,"b":112,"v":0.4},{"g":"POSTN","a":112,"b":115,"v":0.9},{"g":"POSTN","a":115,"b":120,"v":0.3},{"g":"POSTN","a":120,"b":122,"v":1.5},{"g":"POSTN","a":122,"b":124,"v":0.5},{"g":"POSTN","a":124,"b":132,"v":1.7},{"g":"POSTN","a":132,"b":136,"v":0.4},{"g":"POSTN","a":136,"b":137,"v":-1.2},{"g":"POSTN","a":137,"b":139,"v":1.5},{"g":"POSTN","a":139,"b":141,"v":0.7},{"g":"POSTN","a":141,"b":143,"v":2.5},{"g":"POSTN","a":143,"b":145,"v":1.4},{"g":"POSTN","a":145,"b":147,"v":0.6},{"g":"POSTN","a":147,"b":150,"v":2},{"g":"POSTN","a":150,"b":153,"v":0.9},{"g":"POSTN","a":153,"b":155,"v":2},{"g":"POSTN","a":155,"b":158,"v":1.3},{"g":"POSTN","a":158,"b":161,"v":2.7},{"g":"POSTN","a":161,"b":163,"v":3},{"g":"POSTN","a":163,"b":165,"v":0.9},{"g":"POSTN","a":165,"b":168,"v":2.5},{"g":"POSTN","a":168,"b":171,"v":3},{"g":"POSTN","a":171,"b":175,"v":3.2},{"g":"POSTN","a":175,"b":178,"v":2.6},{"g":"POSTN","a":178,"b":182,"v":3.2},{"g":"POSTN","a":182,"b":189,"v":3.4},{"g":"POSTN","a":189,"b":190,"v":1},{"g":"POSTN","a":190,"b":192,"v":3},{"g":"POSTN","a":192,"b":198,"v":3.2},{"g":"POSTN","a":198,"b":201,"v":3.4},{"g":"POSTN","a":201,"b":204,"v":2.7},{"g":"POSTN","a":204,"b":210,"v":3.2},{"g":"POSTN","a":210,"b":213,"v":2.8},{"g":"POSTN","a":213,"b":218,"v":3},{"g":"POSTN","a":218,"b":226,"v":3.4},
{"g":"MYBPH","a":0,"b":1,"v":0.8},{"g":"MYBPH","a":1,"b":3,"v":-0.5},{"g":"MYBPH","a":3,"b":5,"v":-7},{"g":"MYBPH","a":5,"b":6,"v":-1.4},{"g":"MYBPH","a":6,"b":8,"v":0.3},{"g":"MYBPH","a":8,"b":9,"v":-1},{"g":"MYBPH","a":9,"b":12,"v":0.2},{"g":"MYBPH","a":12,"b":13,"v":-1},{"g":"MYBPH","a":13,"b":15,"v":0},{"g":"MYBPH","a":15,"b":17,"v":-1},{"g":"MYBPH","a":17,"b":19,"v":0.3},{"g":"MYBPH","a":19,"b":22,"v":-0.6},{"g":"MYBPH","a":22,"b":23,"v":-7},{"g":"MYBPH","a":23,"b":26,"v":0.5},{"g":"MYBPH","a":26,"b":28,"v":0.1},{"g":"MYBPH","a":28,"b":29,"v":-7},{"g":"MYBPH","a":29,"b":33,"v":0.3},{"g":"MYBPH","a":33,"b":34,"v":-7},{"g":"MYBPH","a":34,"b":38,"v":-0.6},{"g":"MYBPH","a":38,"b":42,"v":-0.3},{"g":"MYBPH","a":42,"b":46,"v":0.1},{"g":"MYBPH","a":46,"b":47,"v":-7},{"g":"MYBPH","a":47,"b":50,"v":0.6},{"g":"MYBPH","a":50,"b":52,"v":-0.1},{"g":"MYBPH","a":52,"b":54,"v":0.3},{"g":"MYBPH","a":54,"b":56,"v":-0.5},{"g":"MYBPH","a":56,"b":58,"v":-0.8},{"g":"MYBPH","a":58,"b":60,"v":0.5},{"g":"MYBPH","a":60,"b":64,"v":-0.5},{"g":"MYBPH","a":64,"b":65,"v":-7},{"g":"MYBPH","a":65,"b":68,"v":1},{"g":"MYBPH","a":68,"b":70,"v":0.3},{"g":"MYBPH","a":70,"b":71,"v":-1},{"g":"MYBPH","a":71,"b":74,"v":0.6},{"g":"MYBPH","a":74,"b":77,"v":0.8},{"g":"MYBPH","a":77,"b":80,"v":0.2},{"g":"MYBPH","a":80,"b":82,"v":-0.4},{"g":"MYBPH","a":82,"b":83,"v":0.8},{"g":"MYBPH","a":83,"b":85,"v":-0.8},{"g":"MYBPH","a":85,"b":86,"v":-7},{"g":"MYBPH","a":86,"b":88,"v":0.8},{"g":"MYBPH","a":88,"b":92,"v":1},{"g":"MYBPH","a":92,"b":96,"v":0.4},{"g":"MYBPH","a":96,"b":100,"v":0.2},{"g":"MYBPH","a":100,"b":103,"v":-0.5},{"g":"MYBPH","a":103,"b":105,"v":-1},{"g":"MYBPH","a":105,"b":108,"v":0.4},{"g":"MYBPH","a":108,"b":109,"v":-7},{"g":"MYBPH","a":109,"b":111,"v":0.8},{"g":"MYBPH","a":111,"b":112,"v":1},{"g":"MYBPH","a":112,"b":114,"v":-0.4},{"g":"MYBPH","a":114,"b":115,"v":-7},{"g":"MYBPH","a":115,"b":118,"v":-0.8},{"g":"MYBPH","a":118,"b":119,"v":-7},{"g":"MYBPH","a":119,"b":121,"v":0.3},{"g":"MYBPH","a":121,"b":122,"v":-7},{"g":"MYBPH","a":122,"b":127,"v":-0.3},{"g":"MYBPH","a":127,"b":128,"v":-0.8},{"g":"MYBPH","a":128,"b":130,"v":0.3},{"g":"MYBPH","a":130,"b":131,"v":-1.3},{"g":"MYBPH","a":131,"b":136,"v":0.8},{"g":"MYBPH","a":136,"b":138,"v":0.5},{"g":"MYBPH","a":138,"b":140,"v":0.2},{"g":"MYBPH","a":140,"b":146,"v":0.6},{"g":"MYBPH","a":146,"b":147,"v":-1.3},{"g":"MYBPH","a":147,"b":152,"v":0.5},{"g":"MYBPH","a":152,"b":156,"v":0.9},{"g":"MYBPH","a":156,"b":160,"v":0.3},{"g":"MYBPH","a":160,"b":161,"v":0.8},{"g":"MYBPH","a":161,"b":162,"v":0.6},{"g":"MYBPH","a":162,"b":164,"v":-1.3},{"g":"MYBPH","a":164,"b":166,"v":0.9},{"g":"MYBPH","a":166,"b":167,"v":-7},{"g":"MYBPH","a":167,"b":172,"v":1.0},{"g":"MYBPH","a":172,"b":178,"v":1.4},{"g":"MYBPH","a":178,"b":184,"v":1.2},{"g":"MYBPH","a":184,"b":197,"v":1.0},{"g":"MYBPH","a":197,"b":198,"v":0.5},{"g":"MYBPH","a":198,"b":199,"v":-1.4},{"g":"MYBPH","a":199,"b":200,"v":1.5},{"g":"MYBPH","a":200,"b":201,"v":-0.4},{"g":"MYBPH","a":201,"b":210,"v":1.5},{"g":"MYBPH","a":210,"b":217,"v":1.3},{"g":"MYBPH","a":217,"b":218,"v":-0.4},{"g":"MYBPH","a":218,"b":224,"v":1.9},{"g":"MYBPH","a":224,"b":226,"v":1.2},
{"g":"WT1","a":0,"b":2,"v":-7},{"g":"WT1","a":2,"b":3,"v":-1.4},{"g":"WT1","a":3,"b":4,"v":-7},{"g":"WT1","a":4,"b":6,"v":-0.5},{"g":"WT1","a":6,"b":11,"v":-7},{"g":"WT1","a":11,"b":13,"v":-1.4},{"g":"WT1","a":13,"b":14,"v":-7},{"g":"WT1","a":14,"b":17,"v":-1.3},{"g":"WT1","a":17,"b":18,"v":-7},{"g":"WT1","a":18,"b":19,"v":-1.3},{"g":"WT1","a":19,"b":23,"v":-7},{"g":"WT1","a":23,"b":24,"v":-1.4},{"g":"WT1","a":24,"b":32,"v":-7},{"g":"WT1","a":32,"b":34,"v":-0.2},{"g":"WT1","a":34,"b":37,"v":-7},{"g":"WT1","a":37,"b":38,"v":-0.4},{"g":"WT1","a":38,"b":41,"v":-7},{"g":"WT1","a":41,"b":42,"v":-1.2},{"g":"WT1","a":42,"b":43,"v":-7},{"g":"WT1","a":43,"b":45,"v":-0.5},{"g":"WT1","a":45,"b":47,"v":-7},{"g":"WT1","a":47,"b":49,"v":-1.2},{"g":"WT1","a":49,"b":50,"v":-7},{"g":"WT1","a":50,"b":52,"v":-1.4},{"g":"WT1","a":52,"b":54,"v":-7},{"g":"WT1","a":54,"b":55,"v":-1.3},{"g":"WT1","a":55,"b":57,"v":-7},{"g":"WT1","a":57,"b":58,"v":-0.8},{"g":"WT1","a":58,"b":61,"v":-7},{"g":"WT1","a":61,"b":63,"v":-1.4},{"g":"WT1","a":63,"b":64,"v":-0.4},{"g":"WT1","a":64,"b":67,"v":-7},{"g":"WT1","a":67,"b":68,"v":0.3},{"g":"WT1","a":68,"b":69,"v":-7},{"g":"WT1","a":69,"b":71,"v":-0.6},{"g":"WT1","a":71,"b":72,"v":-7},{"g":"WT1","a":72,"b":75,"v":-1.3},{"g":"WT1","a":75,"b":76,"v":-7},{"g":"WT1","a":76,"b":77,"v":-0.7},{"g":"WT1","a":77,"b":79,"v":-7},{"g":"WT1","a":79,"b":81,"v":-0.3},{"g":"WT1","a":81,"b":83,"v":-0.6},{"g":"WT1","a":83,"b":86,"v":-7},{"g":"WT1","a":86,"b":87,"v":-1},{"g":"WT1","a":87,"b":88,"v":-7},{"g":"WT1","a":88,"b":90,"v":-1},{"g":"WT1","a":90,"b":92,"v":-0.4},{"g":"WT1","a":92,"b":94,"v":-7},{"g":"WT1","a":94,"b":95,"v":-0.6},{"g":"WT1","a":95,"b":96,"v":-7},{"g":"WT1","a":96,"b":97,"v":0.4},{"g":"WT1","a":97,"b":100,"v":-0.4},{"g":"WT1","a":100,"b":101,"v":-7},{"g":"WT1","a":101,"b":102,"v":0.1},{"g":"WT1","a":102,"b":104,"v":-7},{"g":"WT1","a":104,"b":105,"v":-0.8},{"g":"WT1","a":105,"b":107,"v":-7},{"g":"WT1","a":107,"b":108,"v":-1.3},{"g":"WT1","a":108,"b":109,"v":-7},{"g":"WT1","a":109,"b":110,"v":-1.4},{"g":"WT1","a":110,"b":113,"v":-7},{"g":"WT1","a":113,"b":114,"v":-0.8},{"g":"WT1","a":114,"b":115,"v":-7},{"g":"WT1","a":115,"b":119,"v":-0.4},{"g":"WT1","a":119,"b":120,"v":-7},{"g":"WT1","a":120,"b":121,"v":-0.4},{"g":"WT1","a":121,"b":123,"v":-7},{"g":"WT1","a":123,"b":124,"v":-0.5},{"g":"WT1","a":124,"b":125,"v":-7},{"g":"WT1","a":125,"b":126,"v":-0.4},{"g":"WT1","a":126,"b":131,"v":-7},{"g":"WT1","a":131,"b":135,"v":-1.4},{"g":"WT1","a":135,"b":137,"v":0.5},{"g":"WT1","a":137,"b":143,"v":-0.7},{"g":"WT1","a":143,"b":145,"v":-7},{"g":"WT1","a":145,"b":148,"v":0.2},{"g":"WT1","a":148,"b":149,"v":-7},{"g":"WT1","a":149,"b":150,"v":-1.2},{"g":"WT1","a":150,"b":151,"v":-7},{"g":"WT1","a":151,"b":155,"v":-0.4},{"g":"WT1","a":155,"b":156,"v":-7},{"g":"WT1","a":156,"b":158,"v":-0.2},{"g":"WT1","a":158,"b":159,"v":-7},{"g":"WT1","a":159,"b":161,"v":0.4},{"g":"WT1","a":161,"b":162,"v":-7},{"g":"WT1","a":162,"b":165,"v":-0.5},{"g":"WT1","a":165,"b":166,"v":-1.4},{"g":"WT1","a":166,"b":167,"v":-7},{"g":"WT1","a":167,"b":169,"v":0.5},{"g":"WT1","a":169,"b":171,"v":-1.3},{"g":"WT1","a":171,"b":172,"v":-7},{"g":"WT1","a":172,"b":175,"v":-0.2},{"g":"WT1","a":175,"b":177,"v":-7},{"g":"WT1","a":177,"b":178,"v":-1.4},{"g":"WT1","a":178,"b":179,"v":-7},{"g":"WT1","a":179,"b":184,"v":0.3},{"g":"WT1","a":184,"b":186,"v":-7},{"g":"WT1","a":186,"b":187,"v":0.5},{"g":"WT1","a":187,"b":189,"v":-1.4},{"g":"WT1","a":189,"b":190,"v":0.3},{"g":"WT1","a":190,"b":191,"v":-7},{"g":"WT1","a":191,"b":192,"v":0.3},{"g":"WT1","a":192,"b":194,"v":-0.3},{"g":"WT1","a":194,"b":195,"v":-7},{"g":"WT1","a":195,"b":199,"v":0.6},{"g":"WT1","a":199,"b":200,"v":-7},{"g":"WT1","a":200,"b":202,"v":0.8},{"g":"WT1","a":202,"b":204,"v":0.2},{"g":"WT1","a":204,"b":207,"v":0.7},{"g":"WT1","a":207,"b":208,"v":-7},{"g":"WT1","a":208,"b":209,"v":-1.4},{"g":"WT1","a":209,"b":214,"v":1.2},{"g":"WT1","a":214,"b":215,"v":-7},{"g":"WT1","a":215,"b":216,"v":0.3},{"g":"WT1","a":216,"b":217,"v":-7},{"g":"WT1","a":217,"b":219,"v":1},{"g":"WT1","a":219,"b":220,"v":-1},{"g":"WT1","a":220,"b":222,"v":0.8},{"g":"WT1","a":222,"b":224,"v":0.1},{"g":"WT1","a":224,"b":226,"v":1},
{"g":"HOXA5","a":0,"b":2,"v":-7},{"g":"HOXA5","a":2,"b":4,"v":-0.3},{"g":"HOXA5","a":4,"b":12,"v":-7},{"g":"HOXA5","a":12,"b":13,"v":-1},{"g":"HOXA5","a":13,"b":15,"v":-7},{"g":"HOXA5","a":15,"b":16,"v":-0.5},{"g":"HOXA5","a":16,"b":21,"v":-7},{"g":"HOXA5","a":21,"b":24,"v":-1.4},{"g":"HOXA5","a":24,"b":26,"v":-7},{"g":"HOXA5","a":26,"b":27,"v":-1},{"g":"HOXA5","a":27,"b":29,"v":-7},{"g":"HOXA5","a":29,"b":30,"v":-0.7},{"g":"HOXA5","a":30,"b":31,"v":-7},{"g":"HOXA5","a":31,"b":33,"v":-1.4},{"g":"HOXA5","a":33,"b":35,"v":-0.5},{"g":"HOXA5","a":35,"b":37,"v":-7},{"g":"HOXA5","a":37,"b":40,"v":-0.3},{"g":"HOXA5","a":40,"b":41,"v":-0.8},{"g":"HOXA5","a":41,"b":42,"v":-7},{"g":"HOXA5","a":42,"b":44,"v":-1.3},{"g":"HOXA5","a":44,"b":45,"v":-7},{"g":"HOXA5","a":45,"b":48,"v":-0.9},{"g":"HOXA5","a":48,"b":50,"v":-0.3},{"g":"HOXA5","a":50,"b":55,"v":-7},{"g":"HOXA5","a":55,"b":56,"v":-1.3},{"g":"HOXA5","a":56,"b":59,"v":-7},{"g":"HOXA5","a":59,"b":61,"v":-0.7},{"g":"HOXA5","a":61,"b":63,"v":-7},{"g":"HOXA5","a":63,"b":64,"v":0.2},{"g":"HOXA5","a":64,"b":66,"v":-1.4},{"g":"HOXA5","a":66,"b":68,"v":-7},{"g":"HOXA5","a":68,"b":69,"v":-0.6},{"g":"HOXA5","a":69,"b":70,"v":-7},{"g":"HOXA5","a":70,"b":73,"v":-0.3},{"g":"HOXA5","a":73,"b":76,"v":-0.9},{"g":"HOXA5","a":76,"b":80,"v":-0.4},{"g":"HOXA5","a":80,"b":83,"v":-7},{"g":"HOXA5","a":83,"b":84,"v":-1},{"g":"HOXA5","a":84,"b":85,"v":-7},{"g":"HOXA5","a":85,"b":86,"v":0.2},{"g":"HOXA5","a":86,"b":87,"v":-1.4},{"g":"HOXA5","a":87,"b":88,"v":0.6},{"g":"HOXA5","a":88,"b":90,"v":-0.3},{"g":"HOXA5","a":90,"b":91,"v":-7},{"g":"HOXA5","a":91,"b":94,"v":-0.8},{"g":"HOXA5","a":94,"b":95,"v":0.6},{"g":"HOXA5","a":95,"b":97,"v":-7},{"g":"HOXA5","a":97,"b":99,"v":1},{"g":"HOXA5","a":99,"b":100,"v":-0.4},{"g":"HOXA5","a":100,"b":102,"v":-7},{"g":"HOXA5","a":102,"b":103,"v":0.3},{"g":"HOXA5","a":103,"b":106,"v":-7},{"g":"HOXA5","a":106,"b":107,"v":0.6},{"g":"HOXA5","a":107,"b":110,"v":-7},{"g":"HOXA5","a":110,"b":117,"v":0.8},{"g":"HOXA5","a":117,"b":118,"v":-7},{"g":"HOXA5","a":118,"b":120,"v":0.4},{"g":"HOXA5","a":120,"b":124,"v":-7},{"g":"HOXA5","a":124,"b":125,"v":0.2},{"g":"HOXA5","a":125,"b":126,"v":-7},{"g":"HOXA5","a":126,"b":128,"v":-1.2},{"g":"HOXA5","a":128,"b":131,"v":-0.3},{"g":"HOXA5","a":131,"b":133,"v":-7},{"g":"HOXA5","a":133,"b":134,"v":1.5},{"g":"HOXA5","a":134,"b":135,"v":-7},{"g":"HOXA5","a":135,"b":137,"v":-1.2},{"g":"HOXA5","a":137,"b":139,"v":0.6},{"g":"HOXA5","a":139,"b":140,"v":-1.2},{"g":"HOXA5","a":140,"b":142,"v":0.8},{"g":"HOXA5","a":142,"b":143,"v":-7},{"g":"HOXA5","a":143,"b":150,"v":1.3},{"g":"HOXA5","a":150,"b":158,"v":1.7},{"g":"HOXA5","a":158,"b":165,"v":1.9},{"g":"HOXA5","a":165,"b":175,"v":1.6},{"g":"HOXA5","a":175,"b":190,"v":2},{"g":"HOXA5","a":190,"b":195,"v":1.9},{"g":"HOXA5","a":195,"b":210,"v":1.8},{"g":"HOXA5","a":210,"b":226,"v":1.6},
{"g":"HOXD10","a":0,"b":1,"v":-7},{"g":"HOXD10","a":1,"b":2,"v":-1.2},{"g":"HOXD10","a":2,"b":4,"v":-7},{"g":"HOXD10","a":4,"b":5,"v":0.3},{"g":"HOXD10","a":5,"b":12,"v":-7},{"g":"HOXD10","a":12,"b":13,"v":-0.6},{"g":"HOXD10","a":13,"b":14,"v":-7},{"g":"HOXD10","a":14,"b":15,"v":-0.8},{"g":"HOXD10","a":15,"b":16,"v":-7},{"g":"HOXD10","a":16,"b":18,"v":0.2},{"g":"HOXD10","a":18,"b":20,"v":-7},{"g":"HOXD10","a":20,"b":21,"v":-1.2},{"g":"HOXD10","a":21,"b":22,"v":0.6},{"g":"HOXD10","a":22,"b":25,"v":-1.5},{"g":"HOXD10","a":25,"b":28,"v":-0.8},{"g":"HOXD10","a":28,"b":29,"v":-7},{"g":"HOXD10","a":29,"b":31,"v":0.2},{"g":"HOXD10","a":31,"b":32,"v":1.2},{"g":"HOXD10","a":32,"b":33,"v":-1.2},{"g":"HOXD10","a":33,"b":34,"v":-7},{"g":"HOXD10","a":34,"b":37,"v":-0.7},{"g":"HOXD10","a":37,"b":40,"v":-1.2},{"g":"HOXD10","a":40,"b":41,"v":-7},{"g":"HOXD10","a":41,"b":43,"v":0.6},{"g":"HOXD10","a":43,"b":44,"v":-7},{"g":"HOXD10","a":44,"b":46,"v":-1},{"g":"HOXD10","a":46,"b":49,"v":-1.3},{"g":"HOXD10","a":49,"b":51,"v":-7},{"g":"HOXD10","a":51,"b":53,"v":-1},{"g":"HOXD10","a":53,"b":56,"v":-7},{"g":"HOXD10","a":56,"b":57,"v":1},{"g":"HOXD10","a":57,"b":59,"v":2},{"g":"HOXD10","a":59,"b":61,"v":-7},{"g":"HOXD10","a":61,"b":62,"v":3},{"g":"HOXD10","a":62,"b":64,"v":-7},{"g":"HOXD10","a":64,"b":66,"v":-0.4},{"g":"HOXD10","a":66,"b":68,"v":-0.9},{"g":"HOXD10","a":68,"b":71,"v":-7},{"g":"HOXD10","a":71,"b":74,"v":-1.4},{"g":"HOXD10","a":74,"b":76,"v":0},{"g":"HOXD10","a":76,"b":77,"v":-7},{"g":"HOXD10","a":77,"b":78,"v":-0.6},{"g":"HOXD10","a":78,"b":79,"v":-7},{"g":"HOXD10","a":79,"b":80,"v":-0.6},{"g":"HOXD10","a":80,"b":82,"v":-7},{"g":"HOXD10","a":82,"b":83,"v":-1.4},{"g":"HOXD10","a":83,"b":85,"v":0.4},{"g":"HOXD10","a":85,"b":87,"v":-7},{"g":"HOXD10","a":87,"b":88,"v":-0.8},{"g":"HOXD10","a":88,"b":90,"v":-7},{"g":"HOXD10","a":90,"b":91,"v":-0.4},{"g":"HOXD10","a":91,"b":92,"v":-7},{"g":"HOXD10","a":92,"b":93,"v":-0.8},{"g":"HOXD10","a":93,"b":95,"v":-7},{"g":"HOXD10","a":95,"b":97,"v":0.8},{"g":"HOXD10","a":97,"b":99,"v":-7},{"g":"HOXD10","a":99,"b":100,"v":-1.4},{"g":"HOXD10","a":100,"b":102,"v":-7},{"g":"HOXD10","a":102,"b":103,"v":0.5},{"g":"HOXD10","a":103,"b":104,"v":-1},{"g":"HOXD10","a":104,"b":105,"v":1},{"g":"HOXD10","a":105,"b":106,"v":-0.8},{"g":"HOXD10","a":106,"b":107,"v":0.9},{"g":"HOXD10","a":107,"b":109,"v":-7},{"g":"HOXD10","a":109,"b":111,"v":-0.3},{"g":"HOXD10","a":111,"b":113,"v":0.9},{"g":"HOXD10","a":113,"b":115,"v":0.5},{"g":"HOXD10","a":115,"b":118,"v":0.8},{"g":"HOXD10","a":118,"b":119,"v":-7},{"g":"HOXD10","a":119,"b":120,"v":-0.5},{"g":"HOXD10","a":120,"b":121,"v":-1.3},{"g":"HOXD10","a":121,"b":122,"v":-7},{"g":"HOXD10","a":122,"b":124,"v":-0.2},{"g":"HOXD10","a":124,"b":125,"v":0.9},{"g":"HOXD10","a":125,"b":127,"v":-0.7},{"g":"HOXD10","a":127,"b":129,"v":0.1},{"g":"HOXD10","a":129,"b":131,"v":-1},{"g":"HOXD10","a":131,"b":133,"v":0.5},{"g":"HOXD10","a":133,"b":134,"v":2},{"g":"HOXD10","a":134,"b":135,"v":0.4},{"g":"HOXD10","a":135,"b":136,"v":-7},{"g":"HOXD10","a":136,"b":139,"v":0.4},{"g":"HOXD10","a":139,"b":142,"v":0.8},{"g":"HOXD10","a":142,"b":143,"v":-7},{"g":"HOXD10","a":143,"b":150,"v":1.8},{"g":"HOXD10","a":150,"b":159,"v":2.2},{"g":"HOXD10","a":159,"b":160,"v":0.4},{"g":"HOXD10","a":160,"b":167,"v":2.2},{"g":"HOXD10","a":167,"b":168,"v":-0.8},{"g":"HOXD10","a":168,"b":176,"v":2.2},{"g":"HOXD10","a":176,"b":177,"v":0.8},{"g":"HOXD10","a":177,"b":187,"v":2.4},{"g":"HOXD10","a":187,"b":190,"v":0.4},{"g":"HOXD10","a":190,"b":194,"v":2.1},{"g":"HOXD10","a":194,"b":196,"v":0.9},{"g":"HOXD10","a":196,"b":198,"v":2},{"g":"HOXD10","a":198,"b":199,"v":1},{"g":"HOXD10","a":199,"b":201,"v":2},{"g":"HOXD10","a":201,"b":202,"v":-0.4},{"g":"HOXD10","a":202,"b":211,"v":2.1},{"g":"HOXD10","a":211,"b":214,"v":0.4},{"g":"HOXD10","a":214,"b":226,"v":2.1}]
},
"vconcat":[
{"hconcat":[
 {"vconcat":[
  {"width":1027,"height":53,"data":{"values":[]},"mark":"point"},
  {"hconcat":[
   {"width":27,"height":10,"data":{"values":[]},"mark":"point"},
   {"width":1000,"height":336,"view":{"stroke":"#222","strokeWidth":1.5},
   "encoding":{
    "x":{"field":"x","type":"quantitative","scale":{"domain":[-8,235],"nice":false,"zero":false},"axis":{"title":"Patients (increasing risk score)","values":[0,50,100,150,200],"tickSize":12,"labelPadding":2,"titlePadding":9,"titleX":461}},
    "y":{"field":"y","type":"quantitative","scale":{"domain":[-0.29,10.4],"nice":false,"zero":false},"axis":{"title":"Risk score","values":[0,2,4,6,8,10],"tickSize":12,"labelPadding":1,"titlePadding":6}}},
   "layer":[
    {"data":{"name":"riskScore"},"mark":{"type":"circle","size":40,"opacity":1},"encoding":{"color":{"field":"g","type":"nominal","scale":{"domain":["low","high"],"range":["#00ff00","#ff0000"]},"legend":null}}},
    {"data":{"values":[{"x":113,"y":-0.29},{"x":113,"y":10.4}]},"mark":{"type":"line","color":"#222","strokeWidth":1.3,"strokeDash":[4,4]}},
    {"data":{"values":[{"x":-8,"y":0.43},{"x":235,"y":0.43}]},"mark":{"type":"line","color":"#222","strokeWidth":1.3,"strokeDash":[2,3]}},
    {"data":{"values":[{"x":98.7,"y":11.7,"t":"ATRX wildtype (train)"}]},"mark":{"type":"text","fontSize":41},"encoding":{"text":{"field":"t"}}},
    {"data":{"values":[{"x":-35,"y":13.33,"t":"A"}]},"mark":{"type":"text","font":"Liberation Sans","fontWeight":"bold","fontSize":38},"encoding":{"text":{"field":"t"}}}
   ]}
  ],"bounds":"flush","spacing":0}
 ],"bounds":"flush","spacing":0},
 {"width":576,"height":428,"view":{"stroke":"#222","strokeWidth":1.5},
  "encoding":{
   "x":{"field":"x","type":"quantitative","scale":{"domain":[-0.5,13.54],"nice":false,"zero":false},"axis":{"title":"Time (year)","values":[0,2,4,6,8,10,12],"tickSize":13,"labelPadding":6,"titlePadding":14,"titleX":314}},
   "y":{"field":"y","type":"quantitative","scale":{"domain":[-0.04,1.042],"nice":false,"zero":false},"axis":{"title":"Survival rate","values":[0,0.2,0.4,0.6,0.8,1],"format":".1f","tickSize":15,"labelPadding":2,"titlePadding":27,"titleY":221}}},
  "layer":[
   {"data":{"name":"km"},"mark":{"type":"line","interpolate":"step-after","strokeWidth":3},"encoding":{"color":{"field":"g","type":"nominal","scale":{"domain":["high risk","low risk"],"range":["#ff0000","#0000ff"]},"legend":{"orient":"top-right","offset":0,"title":null,"padding":13,"strokeColor":"#222","fillColor":"#fff","labelFont":"Liberation Sans","labelFontSize":22,"labelColor":"#000","symbolType":"stroke","symbolSize":1849,"symbolStrokeWidth":2.5,"clipHeight":27,"rowPadding":0,"labelOffset":19,"symbolOffset":6}}}},
   {"data":{"name":"censored"},"mark":{"type":"point","shape":"M-1,0H1M0,-1V1","size":196,"filled":false,"strokeWidth":1.3,"opacity":1},"encoding":{"color":{"field":"g","type":"nominal","legend":null}}},
   {"data":{"values":[{"x":6.3,"y":1.135,"t":"ATRX wildtype (train)"}]},"mark":{"type":"text","fontSize":41},"encoding":{"text":{"field":"t"}}},
   {"data":{"values":[{"x":11.47,"y":0.761,"t":"P<0.001"}]},"mark":{"type":"text","fontSize":36},"encoding":{"text":{"field":"t"}}},
   {"data":{"values":[{"x":-3.0,"y":1.135,"t":"B"}]},"mark":{"type":"text","font":"Liberation Sans","fontWeight":"bold","fontSize":38},"encoding":{"text":{"field":"t"}}}
  ]}
],"spacing":88,"resolve":{"scale":{"color":"independent"}}},
{"width":10,"height":12,"data":{"values":[]},"mark":"point"},
{"hconcat":[
 {"width":541,"height":503,"view":{"stroke":"#222","strokeWidth":1.5},
  "encoding":{
   "x":{"field":"x","type":"quantitative","scale":{"domain":[-0.04,1.04],"nice":false,"zero":false},"axis":{"title":"False positive rate","values":[0,0.2,0.4,0.6,0.8,1],"format":".1f","tickSize":13,"labelPadding":4,"titlePadding":16,"titleX":268}},
   "y":{"field":"y","type":"quantitative","scale":{"domain":[-0.04,1.04],"nice":false,"zero":false},"axis":{"title":"True positive rate","values":[0,0.2,0.4,0.6,0.8,1],"format":".1f","tickSize":11,"labelPadding":2,"titlePadding":19,"titleY":256}}},
  "layer":[
   {"data":{"name":"diagonal"},"mark":{"type":"line","color":"#000","strokeWidth":1.3}},
   {"data":{"name":"roc1"},"mark":{"type":"line","color":"#ff0000","strokeWidth":2.8},"encoding":{"order":null}},
   {"data":{"values":[{"x":0.54,"y":1.122,"t":"ATRX wildtype (train)"}]},"mark":{"type":"text","fontSize":41},"encoding":{"text":{"field":"t"}}},
   {"data":{"values":[{"x":0.93,"y":0.258,"t":"1-year"},{"x":0.865,"y":0.157,"t":"AUC=0.905"}]},"mark":{"type":"text"},"encoding":{"text":{"field":"t"}}},
   {"data":{"values":[{"x":-0.208,"y":1.144,"t":"C"}]},"mark":{"type":"text","font":"Liberation Sans","fontWeight":"bold","fontSize":38},"encoding":{"text":{"field":"t"}}}
  ]},
 {"width":139,"height":10,"data":{"values":[]},"mark":"point"},
 {"width":541,"height":503,"view":{"stroke":"#222","strokeWidth":1.5},
  "encoding":{
   "x":{"field":"x","type":"quantitative","scale":{"domain":[-0.04,1.04],"nice":false,"zero":false},"axis":{"title":"False positive rate","values":[0,0.2,0.4,0.6,0.8,1],"format":".1f","tickSize":13,"labelPadding":5,"titlePadding":15,"titleX":264}},
   "y":{"field":"y","type":"quantitative","scale":{"domain":[-0.04,1.04],"nice":false,"zero":false},"axis":{"title":"True positive rate","values":[0,0.2,0.4,0.6,0.8,1],"format":".1f","tickSize":11,"labelPadding":7,"titlePadding":21,"titleY":256}}},
  "layer":[
   {"data":{"name":"diagonal"},"mark":{"type":"line","color":"#000","strokeWidth":1.3}},
   {"data":{"values":[{"x":-0.04,"y":1.04},{"x":1.04,"y":1.04}]},"mark":{"type":"line","color":"#000","strokeWidth":2.5}},
   {"data":{"name":"roc3"},"mark":{"type":"line","color":"#ff0000","strokeWidth":2.8},"encoding":{"order":null}},
   {"data":{"values":[{"x":0.489,"y":1.122,"t":"ATRX wildtype (train)"}]},"mark":{"type":"text","fontSize":41},"encoding":{"text":{"field":"t"}}},
   {"data":{"values":[{"x":0.922,"y":0.264,"t":"3-year"},{"x":0.861,"y":0.157,"t":"AUC=0.917"}]},"mark":{"type":"text"},"encoding":{"text":{"field":"t"}}},
   {"data":{"values":[{"x":-0.217,"y":1.144,"t":"D"}]},"mark":{"type":"text","font":"Liberation Sans","fontWeight":"bold","fontSize":38},"encoding":{"text":{"field":"t"}}}
  ]},
 {"width":151,"height":10,"data":{"values":[]},"mark":"point"},
 {"width":540,"height":503,"view":{"stroke":"#222","strokeWidth":1.5},
  "encoding":{
   "x":{"field":"x","type":"quantitative","scale":{"domain":[-0.038,1.04],"nice":false,"zero":false},"axis":{"title":"False positive rate","values":[0,0.2,0.4,0.6,0.8,1],"format":".1f","tickSize":13,"labelPadding":5,"titlePadding":15,"titleX":262}},
   "y":{"field":"y","type":"quantitative","scale":{"domain":[-0.04,1.04],"nice":false,"zero":false},"axis":{"title":"True positive rate","values":[0,0.2,0.4,0.6,0.8,1],"format":".1f","tickSize":14,"labelPadding":11,"titlePadding":19,"titleY":256}}},
  "layer":[
   {"data":{"name":"diagonal"},"mark":{"type":"line","color":"#000","strokeWidth":1.3}},
   {"data":{"name":"roc5"},"mark":{"type":"line","color":"#ff0000","strokeWidth":2.8},"encoding":{"order":null}},
   {"data":{"values":[{"x":0.531,"y":1.122,"t":"ATRX wildtype (train)"}]},"mark":{"type":"text","fontSize":41},"encoding":{"text":{"field":"t"}}},
   {"data":{"values":[{"x":0.915,"y":0.256,"t":"5-year"},{"x":0.852,"y":0.157,"t":"AUC=0.883"}]},"mark":{"type":"text"},"encoding":{"text":{"field":"t"}}},
   {"data":{"values":[{"x":-0.241,"y":1.144,"t":"E"}]},"mark":{"type":"text","font":"Liberation Sans","fontWeight":"bold","fontSize":38},"encoding":{"text":{"field":"t"}}}
  ]}
],"bounds":"flush","spacing":0},
{"width":10,"height":8.5,"data":{"values":[]},"mark":"point"},
{"hconcat":[
 {"vconcat":[
  {"width":994,"height":20,"data":{"values":[]},"mark":"point"},
  {"width":994,"height":286,"view":{"stroke":"#222","strokeWidth":1.5},
   "encoding":{
    "x":{"field":"x","type":"quantitative","scale":{"domain":[-8,235],"nice":false,"zero":false},"axis":{"title":"Patients (increasing risk socre)","values":[0,50,100,150,200],"tickSize":10,"labelPadding":8,"titlePadding":23,"titleX":489}},
    "y":{"field":"y","type":"quantitative","scale":{"domain":[-0.54,13.53],"nice":false,"zero":false},"axis":{"title":"Survival time (years)","values":[0,2,4,6,8,10,12],"tickSize":10,"labelPadding":7,"titlePadding":14,"titleY":152}}},
   "layer":[
    {"data":{"name":"survivalTime"},"mark":{"type":"circle","size":50,"opacity":1},"encoding":{"color":{"field":"g","type":"nominal","scale":{"domain":["a","d"],"range":["#00ff00","#ff0000"]},"legend":null}}},
    {"data":{"values":[{"x":113,"y":-0.54},{"x":113,"y":13.53}]},"mark":{"type":"line","color":"#222","strokeWidth":1.3,"strokeDash":[4,4]}},
    {"data":{"values":[{"x":112.5,"y":15.15,"t":"ATRX wildtype (train)"}]},"mark":{"type":"text","fontSize":41},"encoding":{"text":{"field":"t"}}},
    {"data":{"values":[{"x":-29,"y":15.7,"t":"F"}]},"mark":{"type":"text","font":"Liberation Sans","fontWeight":"bold","fontSize":38},"encoding":{"text":{"field":"t"}}}
   ]}
 ],"bounds":"flush","spacing":0},
 {"vconcat":[
  {"width":666,"height":10,
   "encoding":{
    "x":{"field":"x","type":"quantitative","scale":{"domain":[0,226],"nice":false,"zero":false},"axis":null},
    "y":{"field":"y","type":"quantitative","scale":{"domain":[0,1],"nice":false,"zero":false},"axis":null}},
   "layer":[
    {"data":{"values":[{"x":0,"x2":113,"y":0,"y2":1,"r":"Low risk"},{"x":113,"x2":226,"y":0,"y2":1,"r":"High risk"}]},"mark":"rect","encoding":{"x2":{"field":"x2"},"y2":{"field":"y2"},"color":{"field":"r","type":"nominal","scale":{"domain":["Low risk","High risk"],"range":["#f8918a","#00d8e4"]},"legend":null}}},
    {"data":{"values":[{"x":64.8,"y":3,"t":"Low risk"},{"x":174,"y":3.4,"t":"High risk"}]},"mark":{"type":"text"},"encoding":{"text":{"field":"t"}}},
    {"data":{"values":[{"x":-10.5,"y":3,"t":"G"}]},"mark":{"type":"text","font":"Liberation Sans","fontWeight":"bold","fontSize":38},"encoding":{"text":{"field":"t"}}}
   ]},
  {"width":666,"height":303,
   "data":{"name":"heat"},
   "encoding":{
    "x":{"field":"a","type":"quantitative","scale":{"domain":[0,226],"nice":false,"zero":false},"axis":null},
    "x2":{"field":"b"},
    "y":{"field":"g","type":"nominal","sort":["ADAMDEC","PTPN2","POSTN","MYBPH","WT1","HOXA5","HOXD10"],"scale":{"paddingInner":0,"paddingOuter":0},"axis":{"title":null,"orient":"right","ticks":false,"labelPadding":9}}},
   "layer":[
    {"mark":{"type":"rect"},"encoding":{"color":{"field":"v","type":"quantitative","scale":{"domain":[3.4,-1.6,-7],"range":["#ff0000","#000000","#00ff00"],"interpolate":"rgb"},"legend":{"orient":"none","legendX":583,"legendY":348,"direction":"horizontal","gradientLength":148,"gradientThickness":10,"title":"FPKM","titleOrient":"bottom","titleAnchor":"middle","titleFont":"Liberation Serif","titleFontSize":20,"titleFontWeight":"normal","titleColor":"#000","labelFont":"Liberation Serif","labelFontSize":20,"labelColor":"#000","labelOffset":-32,"values":[2,0,-2,-4,-6],"tickCount":5}}}},
    {"mark":{"type":"rect"},"encoding":{"color":{"field":"v","type":"quantitative","legend":null}}}
   ]}
 ],"bounds":"flush","spacing":3,"resolve":{"scale":{"color":"independent"}}}
],"spacing":51,"resolve":{"scale":{"color":"independent"}}}
],
"spacing":20,
"resolve":{"scale":{"color":"independent"}}
}
